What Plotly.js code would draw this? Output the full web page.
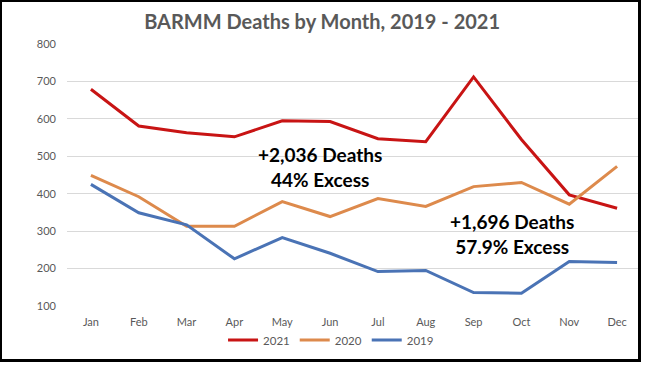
<!DOCTYPE html>
<html><head><meta charset="utf-8">
<script src="https://cdn.plot.ly/plotly-3.0.1.min.js"></script>
<style>
html,body{margin:0;padding:0;background:#fff;}
#chart{position:absolute;left:0;top:0;width:652px;height:366px;}
#frame{position:absolute;left:0;top:0;width:636px;height:357px;border-left:2px solid #000;border-top:2px solid #000;border-right:3px solid #000;border-bottom:3px solid #000;pointer-events:none;}
</style></head>
<body>
<div id="chart"></div>
<div id="frame"></div>
<script>
const months = ["Jan","Feb","Mar","Apr","May","Jun","Jul","Aug","Sep","Oct","Nov","Dec"];
const deaths2021 = [679, 581, 563, 552, 595, 593, 547, 539, 712, 545, 397, 361];
const deaths2020 = [449, 392, 313, 313, 379, 339, 387, 366, 419, 430, 372, 473];
const deaths2019 = [425, 349, 317, 226, 283, 241, 192, 195, 136, 134, 219, 216];
const yTicks = [100, 200, 300, 400, 500, 600, 700, 800];

const font = "Lato, 'Open Sans', sans-serif";
const traces = [
  {x: months, y: deaths2021, name: "2021", type: "scatter", mode: "lines", line: {color: "#C81414", width: 3}},
  {x: months, y: deaths2020, name: "2020", type: "scatter", mode: "lines", line: {color: "#DD8A4C", width: 3}},
  {x: months, y: deaths2019, name: "2019", type: "scatter", mode: "lines", line: {color: "#4A73B5", width: 3}}
];
const layout = {
  width: 652, height: 366,
  margin: {l: 67, r: 11, t: 44, b: 60},
  paper_bgcolor: "#fff", plot_bgcolor: "#fff",
  title: {text: "<b>BARMM Deaths by Month, 2019 - 2021</b>", x: 0.494, xanchor: "center", y: 0.94, yanchor: "middle",
          font: {family: font, size: 20, color: "#595959"}},
  xaxis: {type: "category", range: [-0.5, 11.5], showgrid: false, zeroline: false, showline: false,
          ticks: "", ticklabelstandoff: 8, tickfont: {family: font, size: 11, color: "#595959"}},
  yaxis: {range: [100, 800], tickvals: yTicks, ticktext: yTicks.map(String), showgrid: true, gridcolor: "#d9d9d9",
          gridwidth: 1, zeroline: false, showline: false, ticks: "", ticklabelstandoff: 10,
          tickfont: {family: font, size: 11, color: "#595959"}},
  showlegend: true,
  legend: {orientation: "h", x: 0.46, xanchor: "center", y: -0.13, yanchor: "middle", bgcolor: "rgba(0,0,0,0)",
           font: {family: font, size: 11.5, color: "#595959"}, itemwidth: 30, tracegroupgap: 0},
  annotations: [
    {xref: "paper", yref: "paper", x: 0.44, y: 0.529, text: "<b>+2,036 Deaths<br>44% Excess</b>", showarrow: false,
     font: {family: font, size: 19, color: "#000"}, align: "center", xanchor: "center", yanchor: "middle"},
    {xref: "paper", yref: "paper", x: 0.775, y: 0.273, text: "<b>+1,696 Deaths<br>57.9% Excess</b>", showarrow: false,
     font: {family: font, size: 19, color: "#000"}, align: "center", xanchor: "center", yanchor: "middle"}
  ]
};
Plotly.newPlot("chart", traces, layout, {displayModeBar: false, staticPlot: true});
</script>
</body></html>
